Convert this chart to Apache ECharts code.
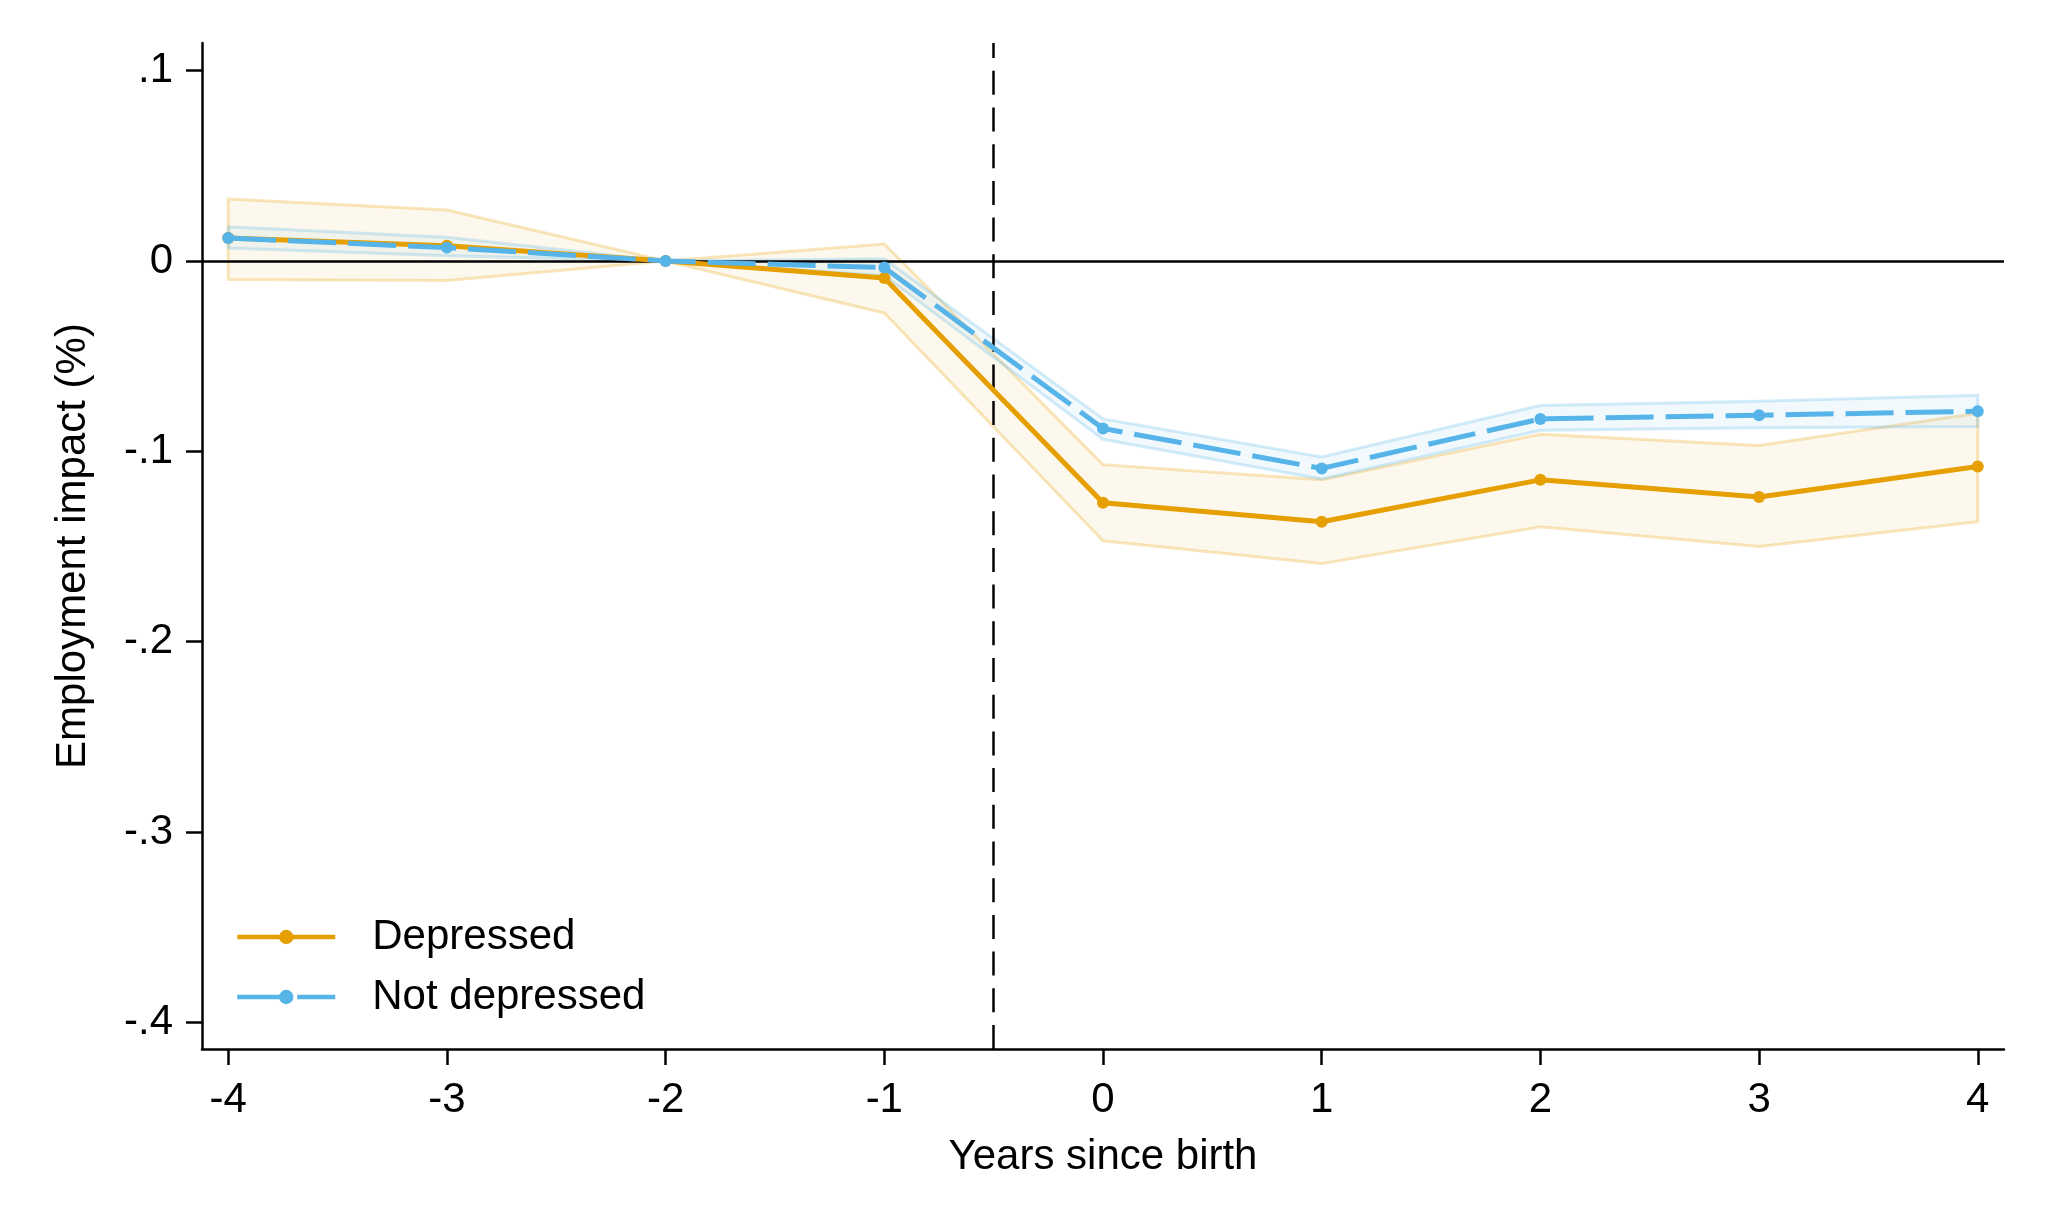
<!DOCTYPE html>
<html>
<head>
<meta charset="utf-8">
<script src="https://cdn.jsdelivr.net/npm/echarts@6/dist/echarts.min.js"></script>
<style>
html,body{margin:0;padding:0;background:#fff;}
#chart{width:2048px;height:1229px;}
</style>
</head>
<body>
<div id="chart"></div>
<script>
// ---- Data ----
const years = [-4, -3, -2, -1, 0, 1, 2, 3, 4];
const depressed   = [0.012, 0.008, 0, -0.009, -0.127, -0.137, -0.115, -0.124, -0.108];
const depressedLo = [-0.0097, -0.0103, 0, -0.0273, -0.147, -0.159, -0.1397, -0.150, -0.137];
const depressedHi = [0.0326, 0.0268, 0, 0.0089, -0.107, -0.115, -0.091, -0.097, -0.080];
const notDepressed   = [0.012, 0.007, 0, -0.0035, -0.088, -0.109, -0.083, -0.081, -0.079];
const notDepressedLo = [0.0068, 0.0027, 0, -0.0076, -0.0937, -0.1145, -0.089, -0.0876, -0.087];
const notDepressedHi = [0.018, 0.0124, 0, 0.0012, -0.083, -0.103, -0.076, -0.0737, -0.0706];
const xTicks = [-4, -3, -2, -1, 0, 1, 2, 3, 4];
const yTicks = [-0.4, -0.3, -0.2, -0.1, 0, 0.1];
const yTickLabels = ['-.4', '-.3', '-.2', '-.1', '0', '.1'];
const birthLine = -0.5;

const ORANGE = '#E69F00';
const BLUE = '#56B4E9';
const FONT = "'Liberation Sans', Arial, sans-serif";

function bandRenderer(lo, hi, fill, stroke) {
  return function (params, api) {
    if (params.dataIndex !== 0) return null;
    const pts = [];
    for (let i = 0; i < years.length; i++) pts.push(api.coord([years[i], hi[i]]));
    for (let i = years.length - 1; i >= 0; i--) pts.push(api.coord([years[i], lo[i]]));
    return {
      type: 'polygon',
      shape: { points: pts },
      style: { fill: fill, stroke: stroke, lineWidth: 3, lineJoin: 'miter' }
    };
  };
}

const chart = echarts.init(document.getElementById('chart'));
chart.setOption({
  animation: false,
  backgroundColor: '#ffffff',
  textStyle: { fontFamily: FONT, color: '#000' },
  grid: { left: 202, right: 44, top: 43, bottom: 180 },
  legend: {
    orient: 'vertical',
    left: 230,
    top: 911,
    padding: 5,
    itemWidth: 98,
    itemHeight: 18,
    itemGap: 18,
    data: ['Depressed', 'Not depressed'],
    lineStyle: { width: 4.5, type: 'inherit' },
    textStyle: { fontSize: 42, fontFamily: FONT, color: '#000', lineHeight: 42, padding: [0, 0, 0, 32] }
  },
  xAxis: {
    type: 'value',
    min: -4.12,
    max: 4.12,
    name: 'Years since birth',
    nameLocation: 'middle',
    nameGap: 87,
    nameTextStyle: { fontSize: 42, fontFamily: FONT, color: '#000' },
    axisLine: { onZero: false, lineStyle: { color: '#000', width: 2.5 } },
    axisTick: { length: 16, lineStyle: { color: '#000', width: 2.5 }, customValues: xTicks },
    axisLabel: { fontSize: 42, fontFamily: FONT, color: '#000', margin: 30, customValues: xTicks },
    splitLine: { show: false }
  },
  yAxis: {
    type: 'value',
    min: -0.414,
    max: 0.1145,
    name: 'Employment impact (%)',
    nameLocation: 'middle',
    nameGap: 108,
    nameTextStyle: { fontSize: 42, fontFamily: FONT, color: '#000' },
    axisLine: { onZero: false, lineStyle: { color: '#000', width: 2.5 } },
    axisTick: { length: 16, lineStyle: { color: '#000', width: 2.5 }, customValues: yTicks },
    axisLabel: {
      fontSize: 42, fontFamily: FONT, color: '#000', margin: 29, customValues: yTicks,
      formatter: function (v) {
        for (let i = 0; i < yTicks.length; i++) if (Math.abs(yTicks[i] - v) < 1e-9) return yTickLabels[i];
        return '';
      }
    },
    splitLine: { show: false }
  },
  series: [
    {
      name: 'Depressed CI',
      type: 'custom',
      silent: true,
      z: 1,
      renderItem: bandRenderer(depressedLo, depressedHi, 'rgba(230,159,0,0.07)', 'rgba(230,159,0,0.26)'),
      data: years.map((x, i) => [x, depressedLo[i], depressedHi[i]]),
      encode: { x: 0, y: [1, 2] },
      markLine: {
        silent: true,
        symbol: ['none', 'none'],
        label: { show: false },
        emphasis: { disabled: true },
        data: [
          { xAxis: birthLine, lineStyle: { color: '#000', width: 2.5, type: [24, 12.7] } },
          { yAxis: 0, lineStyle: { color: '#000', width: 2.5, type: 'solid' } }
        ]
      }
    },
    {
      name: 'Not depressed CI',
      type: 'custom',
      silent: true,
      z: 1,
      renderItem: bandRenderer(notDepressedLo, notDepressedHi, 'rgba(86,180,233,0.08)', 'rgba(86,180,233,0.26)'),
      data: years.map((x, i) => [x, notDepressedLo[i], notDepressedHi[i]]),
      encode: { x: 0, y: [1, 2] }
    },
    {
      name: 'Depressed',
      type: 'line',
      z: 5,
      data: years.map((x, i) => [x, depressed[i]]),
      symbol: 'circle',
      symbolSize: 12,
      showSymbol: true,
      itemStyle: { color: ORANGE },
      lineStyle: { color: ORANGE, width: 5 }
    },
    {
      name: 'Not depressed',
      type: 'line',
      z: 6,
      data: years.map((x, i) => [x, notDepressed[i]]),
      symbol: 'circle',
      symbolSize: 12,
      showSymbol: true,
      itemStyle: { color: BLUE },
      lineStyle: { color: BLUE, width: 5, type: [48, 12] }
    }
  ]
});
</script>
</body>
</html>
